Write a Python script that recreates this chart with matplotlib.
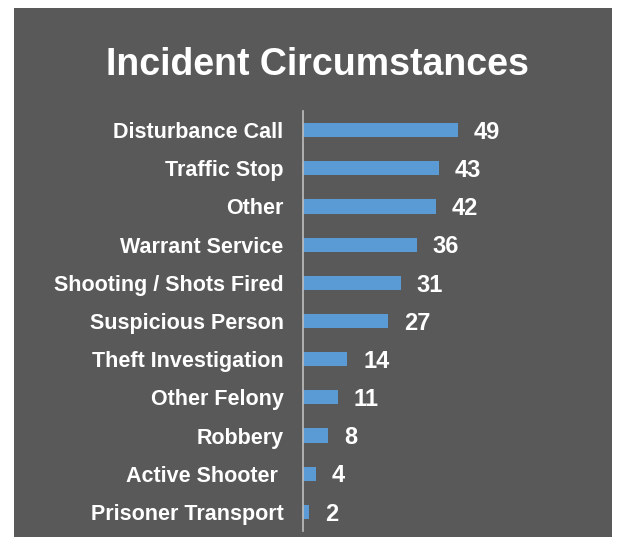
import matplotlib
matplotlib.use("Agg")
import matplotlib.pyplot as plt
from matplotlib.patches import Rectangle

categories = ["Disturbance Call", "Traffic Stop", "Other", "Warrant Service",
              "Shooting / Shots Fired", "Suspicious Person", "Theft Investigation",
              "Other Felony", "Robbery", "Active Shooter ", "Prisoner Transport"]
counts = [49, 43, 42, 36, 31, 27, 14, 11, 8, 4, 2]

BG = "#595959"
BAR = "#5b9bd5"
plt.rcParams["font.family"] = ["Liberation Sans", "DejaVu Sans"]

W, H = 621, 543
fig = plt.figure(figsize=(W / 100, H / 100), dpi=100)
fig.patch.set_facecolor("white")
fig.patches.append(Rectangle((14 / W, 1 - 537 / H), (612 - 14) / W, (537 - 8) / H,
                             transform=fig.transFigure, facecolor=BG,
                             edgecolor="none", zorder=-10))

fig.text(317 / W, 1 - 65 / H, "Incident Circumstances", color="white",
         fontsize=27, fontweight="bold", ha="center", va="center")

ax = fig.add_axes([303 / W, 1 - 531 / H, 297 / W, 420 / H])
ax.set_zorder(5)
ax.set_facecolor("none")
y = list(range(len(categories)))
ax.barh(y, counts, height=0.37, color=BAR)
for yi, v in zip(y, counts):
    ax.annotate(str(v), (v, yi), xytext=(11.5, -6.3), textcoords="offset points",
                color="white", fontsize=17, fontweight="bold", va="baseline")

ax.set_ylim(len(categories) - 0.5, -0.5)
ax.set_xlim(0, 94)
ax.set_yticks(y)
ax.set_yticklabels(categories, color="white", fontsize=15.5, fontweight="bold")
ax.tick_params(axis="y", length=0, pad=14)
ax.set_xticks([])
for s in ["top", "right", "bottom"]:
    ax.spines[s].set_visible(False)
ax.spines["left"].set_color("#bfbfbf")
ax.spines["left"].set_linewidth(1.2)

fig.savefig("out.png", dpi=100)
